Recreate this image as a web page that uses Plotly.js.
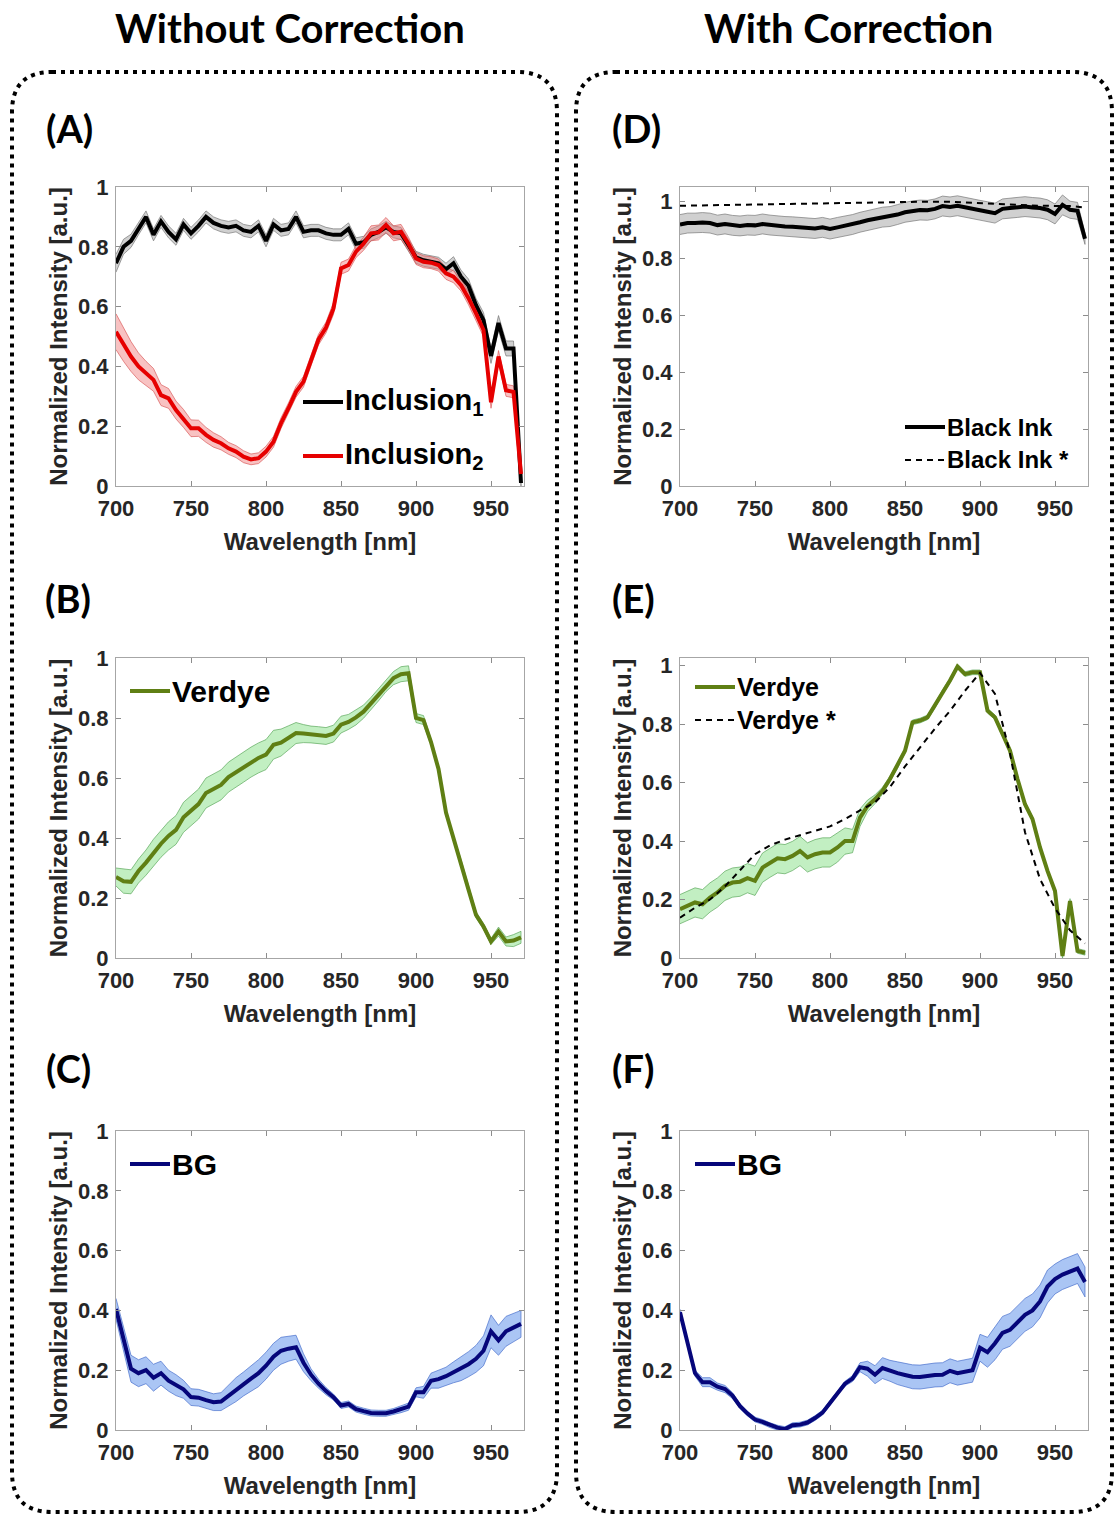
<!DOCTYPE html>
<html>
<head>
<meta charset="utf-8">
<script src="https://cdn.plot.ly/plotly-3.0.1.min.js"></script>
<style>html,body{margin:0;padding:0;background:#fff;}#chart{width:1116px;height:1517px;}</style>
</head>
<body>
<div id="chart"></div>
<script>
// ---------------- DATA ----------------
const wavelength = [700,705,710,715,720,725,730,735,740,745,750,755,760,765,770,775,780,785,790,795,800,805,810,815,820,825,830,835,840,845,850,855,860,865,870,875,880,885,890,895,900,905,910,915,920,925,930,935,940,945,950,955,960,965,970];

// (A) Without correction
const inclusion1 = [0.745,0.80,0.82,0.86,0.90,0.84,0.885,0.85,0.825,0.875,0.845,0.87,0.90,0.88,0.87,0.865,0.87,0.855,0.85,0.87,0.82,0.875,0.855,0.86,0.90,0.85,0.855,0.855,0.845,0.84,0.84,0.86,0.81,0.815,0.84,0.85,0.865,0.85,0.845,0.805,0.765,0.755,0.75,0.745,0.725,0.745,0.70,0.67,0.605,0.555,0.435,0.545,0.46,0.46,0.01];
const inclusion1Sd = [0.03,0.025,0.022,0.02,0.02,0.02,0.02,0.02,0.02,0.02,0.02,0.02,0.02,0.02,0.02,0.02,0.02,0.02,0.02,0.02,0.02,0.02,0.02,0.02,0.02,0.02,0.02,0.02,0.02,0.02,0.02,0.02,0.02,0.02,0.02,0.02,0.02,0.02,0.02,0.02,0.02,0.02,0.02,0.02,0.02,0.022,0.022,0.022,0.022,0.025,0.025,0.025,0.025,0.025,0.01];
const inclusion2 = [0.516,0.472,0.433,0.40,0.377,0.355,0.304,0.293,0.254,0.226,0.193,0.193,0.171,0.154,0.143,0.126,0.115,0.098,0.089,0.093,0.115,0.148,0.21,0.26,0.315,0.349,0.42,0.49,0.53,0.594,0.728,0.739,0.784,0.81,0.845,0.848,0.873,0.845,0.85,0.81,0.761,0.75,0.747,0.739,0.711,0.70,0.672,0.628,0.577,0.522,0.28,0.433,0.32,0.315,0.04];
const inclusion2Sd = [0.06,0.055,0.05,0.045,0.04,0.038,0.035,0.033,0.03,0.03,0.028,0.027,0.025,0.024,0.022,0.02,0.02,0.02,0.018,0.018,0.018,0.018,0.018,0.018,0.018,0.018,0.018,0.018,0.018,0.02,0.02,0.02,0.02,0.022,0.025,0.025,0.025,0.025,0.025,0.022,0.02,0.02,0.02,0.02,0.02,0.02,0.02,0.022,0.022,0.022,0.02,0.02,0.02,0.02,0.01];

// (B)
const verdyeRaw = [0.27,0.256,0.254,0.29,0.318,0.351,0.381,0.407,0.427,0.469,0.491,0.513,0.55,0.564,0.577,0.603,0.62,0.636,0.653,0.667,0.678,0.711,0.718,0.734,0.75,0.748,0.745,0.743,0.74,0.748,0.778,0.787,0.802,0.821,0.849,0.877,0.908,0.933,0.946,0.949,0.80,0.793,0.72,0.63,0.485,0.396,0.318,0.228,0.144,0.105,0.055,0.088,0.055,0.058,0.069];
const verdyeRawSd = [0.03,0.04,0.04,0.04,0.042,0.045,0.045,0.047,0.048,0.05,0.05,0.05,0.05,0.05,0.05,0.05,0.05,0.05,0.05,0.05,0.05,0.048,0.045,0.04,0.035,0.03,0.028,0.028,0.028,0.028,0.028,0.025,0.025,0.022,0.02,0.02,0.02,0.022,0.025,0.025,0.015,0.015,0.01,0.01,0.01,0.01,0.01,0.01,0.01,0.01,0.01,0.015,0.015,0.02,0.02];

// (C)
const bgRaw = [0.405,0.30,0.205,0.19,0.20,0.175,0.19,0.165,0.15,0.136,0.11,0.108,0.10,0.093,0.095,0.115,0.135,0.154,0.172,0.19,0.215,0.245,0.265,0.272,0.277,0.225,0.185,0.155,0.13,0.11,0.082,0.087,0.07,0.063,0.057,0.056,0.056,0.062,0.07,0.078,0.126,0.126,0.165,0.17,0.18,0.193,0.205,0.22,0.238,0.265,0.33,0.30,0.33,0.342,0.355];
const bgRawSd = [0.035,0.04,0.045,0.045,0.045,0.045,0.04,0.035,0.035,0.03,0.028,0.028,0.028,0.028,0.03,0.035,0.04,0.04,0.042,0.045,0.045,0.045,0.045,0.042,0.04,0.03,0.02,0.015,0.012,0.01,0.01,0.01,0.01,0.01,0.01,0.01,0.01,0.01,0.012,0.012,0.015,0.02,0.025,0.03,0.03,0.035,0.04,0.042,0.045,0.05,0.055,0.05,0.05,0.047,0.045];

// (D) With correction
const blackInk = [0.92,0.925,0.925,0.927,0.925,0.918,0.922,0.917,0.915,0.918,0.917,0.922,0.918,0.915,0.913,0.912,0.91,0.908,0.906,0.91,0.904,0.91,0.915,0.92,0.928,0.935,0.94,0.946,0.948,0.955,0.963,0.968,0.971,0.97,0.975,0.985,0.982,0.986,0.98,0.975,0.97,0.965,0.96,0.975,0.978,0.98,0.983,0.98,0.978,0.972,0.957,0.989,0.972,0.968,0.87];
const blackInkSd = [0.035,0.035,0.035,0.035,0.035,0.035,0.035,0.035,0.035,0.035,0.035,0.035,0.035,0.035,0.035,0.035,0.035,0.035,0.035,0.035,0.035,0.035,0.035,0.035,0.035,0.035,0.035,0.035,0.035,0.035,0.035,0.035,0.035,0.035,0.035,0.035,0.035,0.035,0.035,0.035,0.035,0.035,0.035,0.035,0.035,0.035,0.035,0.035,0.035,0.035,0.035,0.035,0.03,0.03,0.02];
const blackInkRefWl = [700,720,740,760,780,800,820,840,860,880,900,920,940,960,970];
const blackInkRef = [0.986,0.988,0.99,0.992,0.994,0.996,0.998,1.0,1.0,1.0,0.996,0.99,0.986,0.985,0.98];

// (E)
const verdyeCorr = [0.167,0.178,0.19,0.184,0.207,0.224,0.247,0.258,0.261,0.273,0.264,0.309,0.326,0.341,0.338,0.349,0.366,0.344,0.355,0.361,0.361,0.378,0.40,0.40,0.48,0.52,0.543,0.572,0.612,0.658,0.709,0.806,0.812,0.823,0.863,0.909,0.949,0.997,0.971,0.977,0.977,0.846,0.823,0.766,0.709,0.612,0.526,0.475,0.378,0.298,0.229,0.007,0.195,0.024,0.018];
const verdyeCorrSd = [0.05,0.05,0.05,0.05,0.05,0.05,0.05,0.05,0.05,0.05,0.05,0.05,0.05,0.05,0.05,0.05,0.05,0.05,0.05,0.05,0.05,0.05,0.045,0.04,0.03,0.02,0.015,0.012,0.01,0.01,0.008,0.008,0.008,0.008,0.008,0.008,0.008,0.008,0.008,0.008,0.008,0.008,0.008,0.008,0.008,0.008,0.008,0.008,0.008,0.008,0.008,0.008,0.008,0.008,0.008];
const verdyeRefWl = [700,710,720,730,740,750,760,770,780,790,800,810,820,830,840,850,860,870,880,890,900,910,920,930,940,950,960,970];
const verdyeRef = [0.138,0.172,0.20,0.245,0.30,0.355,0.385,0.405,0.42,0.435,0.45,0.475,0.505,0.532,0.585,0.655,0.72,0.785,0.845,0.914,0.975,0.903,0.70,0.43,0.27,0.17,0.095,0.05];

// (F)
const bgCorr = [0.394,0.29,0.19,0.16,0.16,0.145,0.137,0.115,0.08,0.055,0.035,0.027,0.016,0.008,0.003,0.016,0.018,0.025,0.04,0.058,0.09,0.125,0.155,0.172,0.21,0.205,0.185,0.207,0.198,0.19,0.184,0.178,0.177,0.181,0.184,0.185,0.198,0.19,0.196,0.20,0.275,0.26,0.29,0.325,0.335,0.36,0.385,0.40,0.43,0.48,0.505,0.52,0.53,0.54,0.495];
const bgCorrSd = [0.01,0.01,0.01,0.015,0.015,0.012,0.012,0.01,0.008,0.008,0.008,0.008,0.008,0.008,0.008,0.008,0.008,0.008,0.008,0.008,0.008,0.008,0.008,0.01,0.015,0.025,0.03,0.035,0.035,0.038,0.04,0.04,0.04,0.04,0.04,0.04,0.04,0.04,0.04,0.04,0.045,0.05,0.055,0.055,0.055,0.055,0.055,0.055,0.055,0.055,0.05,0.05,0.05,0.05,0.05];

const xTicks = [700,750,800,850,900,950];
const yTicks = [0,0.2,0.4,0.6,0.8,1];
const yTickText = ['0','0.2','0.4','0.6','0.8','1'];
const xTitle = 'Wavelength [nm]';
const yTitle = 'Normalized Intensity [a.u.]';

// ---------------- STYLE ----------------
const W = 1116, H = 1517;
const C = {
  black: '#000000', blackFill: 'rgba(150,150,150,0.45)', blackEdge: 'rgba(110,110,110,0.8)',
  red: '#e60000', redFill: 'rgba(240,120,120,0.45)', redEdge: 'rgba(215,80,80,0.8)',
  green: '#5f7f14', greenFill: 'rgba(120,220,120,0.45)', greenEdge: 'rgba(80,160,80,0.8)',
  navy: '#06067a', navyFill: 'rgba(100,150,235,0.55)', navyEdge: 'rgba(60,100,200,0.8)'
};

function band(xs, mean, sd, ax, fill, edge) {
  const up = mean.map((v, i) => v + sd[i]);
  const lo = mean.map((v, i) => v - sd[i]);
  return {
    x: xs.concat(xs.slice().reverse()),
    y: up.concat(lo.slice().reverse()),
    xaxis: 'x' + ax, yaxis: 'y' + ax,
    type: 'scatter', mode: 'lines', fill: 'toself', fillcolor: fill,
    line: {color: edge, width: 0.8}, hoverinfo: 'skip', showlegend: false
  };
}
function line(xs, ys, ax, color, width, dash, name) {
  return {x: xs, y: ys, xaxis: 'x' + ax, yaxis: 'y' + ax, type: 'scatter', mode: 'lines',
    name: name, line: {color: color, width: width, dash: dash || 'solid'}, showlegend: false};
}

const traces = [
  band(wavelength, inclusion1, inclusion1Sd, '', C.blackFill, C.blackEdge),
  band(wavelength, inclusion2, inclusion2Sd, '', C.redFill, C.redEdge),
  line(wavelength, inclusion1, '', C.black, 4, null, 'Inclusion1'),
  line(wavelength, inclusion2, '', C.red, 4, null, 'Inclusion2'),

  band(wavelength, verdyeRaw, verdyeRawSd, '2', C.greenFill, C.greenEdge),
  line(wavelength, verdyeRaw, '2', C.green, 4, null, 'Verdye'),

  band(wavelength, bgRaw, bgRawSd, '3', C.navyFill, C.navyEdge),
  line(wavelength, bgRaw, '3', C.navy, 4, null, 'BG'),

  band(wavelength, blackInk, blackInkSd, '4', C.blackFill, C.blackEdge),
  line(wavelength, blackInk, '4', C.black, 4, null, 'Black Ink'),
  line(blackInkRefWl, blackInkRef, '4', C.black, 2, '6px,5px', 'Black Ink *'),

  band(wavelength, verdyeCorr, verdyeCorrSd, '5', C.greenFill, C.greenEdge),
  line(wavelength, verdyeCorr, '5', C.green, 4, null, 'Verdye'),
  line(verdyeRefWl, verdyeRef, '5', C.black, 2, '6px,5px', 'Verdye *'),

  band(wavelength, bgCorr, bgCorrSd, '6', C.navyFill, C.navyEdge),
  line(wavelength, bgCorr, '6', C.navy, 4, null, 'BG')
];

// geometry (pixels -> paper)
const px = x => x / W;
const py = y => 1 - y / H;
const colX = [[116, 524], [680, 1088]];
const rowY = [[187, 486], [658, 958], [1131, 1430]];

const tickFont = {family: 'Liberation Sans, Arial, sans-serif', size: 22, color: '#262626', weight: 'bold'};
const titleFont = {family: 'Liberation Sans, Arial, sans-serif', size: 24, color: '#262626', weight: 'bold'};

function xAxis(col, row, anchor) {
  return {
    domain: [px(colX[col][0]), px(colX[col][1])], anchor: anchor,
    range: [700, 972], tickvals: xTicks, ticktext: xTicks.map(String),
    ticks: 'inside', ticklen: 5, tickcolor: '#8c8c8c', showline: true, linecolor: '#a6a6a6',
    linewidth: 1, mirror: 'ticks', showgrid: false, zeroline: false,
    tickfont: tickFont, ticklabelstandoff: 3,
    title: {text: xTitle, font: titleFont, standoff: 12}
  };
}
function yAxis(col, row, anchor, ymax) {
  return {
    domain: [py(rowY[row][1]), py(rowY[row][0])], anchor: anchor,
    range: [0, ymax], tickvals: yTicks, ticktext: yTickText,
    ticks: 'inside', ticklen: 5, tickcolor: '#8c8c8c', showline: true, linecolor: '#a6a6a6',
    linewidth: 1, mirror: 'ticks', showgrid: false, zeroline: false,
    tickfont: tickFont, ticklabelstandoff: 2,
    title: {text: yTitle, font: titleFont, standoff: 3}
  };
}

const layout = {
  width: W, height: H, margin: {l: 0, r: 0, t: 0, b: 0},
  paper_bgcolor: '#fff', plot_bgcolor: '#fff', showlegend: false,
  xaxis: xAxis(0, 0, 'y'), yaxis: yAxis(0, 0, 'x', 1),
  xaxis2: xAxis(0, 1, 'y2'), yaxis2: yAxis(0, 1, 'x2', 1),
  xaxis3: xAxis(0, 2, 'y3'), yaxis3: yAxis(0, 2, 'x3', 1),
  xaxis4: xAxis(1, 0, 'y4'), yaxis4: yAxis(1, 0, 'x4', 1.052),
  xaxis5: xAxis(1, 1, 'y5'), yaxis5: yAxis(1, 1, 'x5', 1.026),
  xaxis6: xAxis(1, 2, 'y6'), yaxis6: yAxis(1, 2, 'x6', 1),
  annotations: [], shapes: []
};

// Column headings
const headFont = {family: 'Lato, Open Sans, sans-serif', size: 40, color: '#000', weight: 'bold'};
layout.annotations.push({xref: 'paper', yref: 'paper', x: px(290), y: py(28), text: 'Without Correction', showarrow: false, font: headFont, xanchor: 'center', yanchor: 'middle'});
layout.annotations.push({xref: 'paper', yref: 'paper', x: px(848), y: py(28), text: 'With Correction', showarrow: false, font: headFont, xanchor: 'center', yanchor: 'middle'});

// Panel letters
const letterFont = {family: 'Lato, Open Sans, sans-serif', size: 38, color: '#000', weight: 'bold'};
const letters = [['(A)', 69, 128], ['(B)', 68, 598], ['(C)', 68, 1068], ['(D)', 636, 128], ['(E)', 633, 598], ['(F)', 633, 1068]];
letters.forEach(l => layout.annotations.push({xref: 'paper', yref: 'paper', x: px(l[1]), y: py(l[2]), text: l[0], showarrow: false, font: letterFont, xanchor: 'center', yanchor: 'middle'}));

// Legends (sample line + label)
function legendItem(x0, y, label, color, dash, width, size) {
  layout.shapes.push({type: 'line', xref: 'paper', yref: 'paper', x0: px(x0), x1: px(x0 + 40), y0: py(y), y1: py(y),
    line: {color: color, width: width, dash: dash || 'solid'}});
  layout.annotations.push({xref: 'paper', yref: 'paper', x: px(x0 + 40), y: py(y), text: label, showarrow: false,
    xanchor: 'left', yanchor: 'middle', font: {family: 'Liberation Sans, Arial, sans-serif', size: size, color: '#000', weight: 'bold'}});
}
legendItem(303, 402, 'Inclusion<sub>1</sub>', C.black, null, 4, 29);
legendItem(303, 456, 'Inclusion<sub>2</sub>', C.red, null, 4, 29);
legendItem(130, 691, 'Verdye', C.green, null, 4, 30);
legendItem(130, 1164, 'BG', C.navy, null, 4, 30);
legendItem(905, 427, 'Black Ink', C.black, null, 4, 24);
legendItem(905, 460, 'Black Ink *', C.black, '6px,5px', 2, 24);
legendItem(695, 687, 'Verdye', C.green, null, 4, 25);
legendItem(695, 720, 'Verdye *', C.black, '6px,5px', 2, 25);
legendItem(695, 1164, 'BG', C.navy, null, 4, 30);

// Dotted rounded group boxes
function roundBox(x0, y0, x1, y1, r) {
  const X = v => px(v), Y = v => py(v);
  const p = 'M' + X(x0 + r) + ',' + Y(y0) + ' L' + X(x1 - r) + ',' + Y(y0) +
    ' Q' + X(x1) + ',' + Y(y0) + ' ' + X(x1) + ',' + Y(y0 + r) +
    ' L' + X(x1) + ',' + Y(y1 - r) + ' Q' + X(x1) + ',' + Y(y1) + ' ' + X(x1 - r) + ',' + Y(y1) +
    ' L' + X(x0 + r) + ',' + Y(y1) + ' Q' + X(x0) + ',' + Y(y1) + ' ' + X(x0) + ',' + Y(y1 - r) +
    ' L' + X(x0) + ',' + Y(y0 + r) + ' Q' + X(x0) + ',' + Y(y0) + ' ' + X(x0 + r) + ',' + Y(y0) + ' Z';
  layout.shapes.push({type: 'path', xref: 'paper', yref: 'paper', path: p, line: {color: '#000', width: 4, dash: '4px,5px'}, layer: 'above'});
}
roundBox(12, 72, 557, 1512, 40);
roundBox(576, 72, 1112, 1512, 40);

Plotly.newPlot('chart', traces, layout, {staticPlot: true, displayModeBar: false});
</script>
</body>
</html>
